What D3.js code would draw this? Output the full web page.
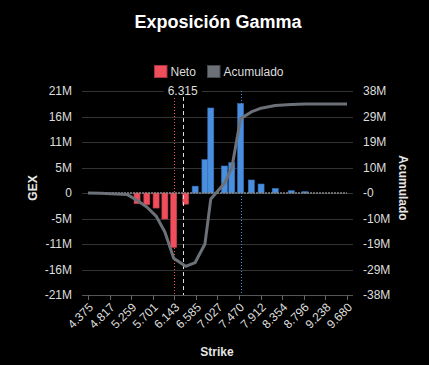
<!DOCTYPE html>
<html>
<head>
<meta charset="utf-8">
<script src="https://cdn.jsdelivr.net/npm/d3@7"></script>
<style>
  html, body { margin: 0; padding: 0; background: #000; }
  svg { display: block; font-family: "Liberation Sans", Arial, sans-serif; }
</style>
</head>
<body>
<div id="chart"></div>
<script>
// strikes with visible net gamma bars (millions)
var strikes = [5.38, 5.58, 5.77, 5.95, 6.13, 6.375, 6.57, 6.77, 6.89, 7.17, 7.32, 7.50, 7.72, 7.92, 8.21, 8.54, 8.82];
var neto    = [-2.2, -2.4, -3.1, -5.35, -11.2, -2.3, 1.4, 6.86, 17.5, 5.56, 6.24, 18.4, 2.68, 1.85, 0.95, 0.47, 0.27];

// cumulative line (millions)
var lineStrikes = [4.375, 4.62, 5.18, 5.38, 5.58, 5.77, 5.95, 6.13, 6.375, 6.57, 6.77, 6.89, 7.17, 7.32, 7.50, 7.72, 7.92, 8.21, 8.54, 8.82, 9.68];
var acumulado   = [0, -0.1, -0.6, -2.7, -5.2, -8.6, -14.5, -24.3, -27.3, -25.9, -19.0, -2.2, 3.6, 9.3, 27.7, 30.2, 31.6, 32.6, 33.0, 33.2, 33.2];

var xTickLabels = ["4.375","4.817","5.259","5.701","6.143","6.585","7.027","7.470","7.912","8.354","8.796","9.238","9.680"];
var leftTicks  = [21, 15.75, 10.5, 5.25, 0, -5.25, -10.5, -15.75, -21];
var leftLabels = ["21M","16M","11M","5M","0","-5M","-11M","-16M","-21M"];
var rightTicks  = [38, 28.5, 19, 9.5, 0, -9.5, -19, -28.5, -38];
var rightLabels = ["38M","29M","19M","10M","-0","-10M","-19M","-29M","-38M"];

var spot = 6.315, putWall = 6.13, callWall = 7.50;

var width = 429, height = 365;
var pLeft = 88, pRight = 347, pTop = 91, pBottom = 295;

var x = d3.scaleLinear().domain([4.375, 9.68]).range([pLeft, pRight]);
var yL = d3.scaleLinear().domain([-21, 21]).range([pBottom, pTop]);
var yR = d3.scaleLinear().domain([-38, 38]).range([pBottom, pTop]);

var svg = d3.select("#chart").append("svg")
    .attr("width", width)
    .attr("height", height);

svg.append("rect").attr("width", width).attr("height", height).attr("fill", "#000");

// title
svg.append("text")
    .attr("x", 218).attr("y", 28)
    .attr("text-anchor", "middle")
    .attr("fill", "#fff")
    .style("font-size", "18px").style("font-weight", "bold")
    .text("Exposición Gamma");

// legend
var legend = [
  {name: "Neto", color: "#ef4f5c", stroke: "#a8323c", x: 154},
  {name: "Acumulado", color: "#6c7178", stroke: "#44484d", x: 207}
];
var lg = svg.selectAll(".lg").data(legend).enter().append("g");
lg.append("rect")
    .attr("x", function (d) { return d.x + 0.5; }).attr("y", 65.5)
    .attr("width", 12.5).attr("height", 12)
    .attr("fill", function (d) { return d.color; })
    .attr("stroke", function (d) { return d.stroke; });
lg.append("text")
    .attr("x", function (d) { return d.x + 16.5; }).attr("y", 76)
    .attr("fill", "#ddd")
    .style("font-size", "12px")
    .text(function (d) { return d.name; });

// grid lines
svg.selectAll(".grid").data(leftTicks).enter().append("line")
    .attr("x1", pLeft - 6).attr("x2", pRight + 6)
    .attr("y1", function (d) { return Math.round(yL(d)) + 0.5; })
    .attr("y2", function (d) { return Math.round(yL(d)) + 0.5; })
    .attr("stroke", function (d, i) { return i == leftTicks.length - 1 ? "#555" : "#333"; })
    .attr("stroke-width", 1);

// x ticks
var xTicks = xTickLabels.map(function (d) { return +d; });
svg.selectAll(".xt").data(xTicks).enter().append("line")
    .attr("x1", function (d) { return Math.round(x(d)) + 0.5; })
    .attr("x2", function (d) { return Math.round(x(d)) + 0.5; })
    .attr("y1", pBottom).attr("y2", pBottom + 5)
    .attr("stroke", "#666");

svg.selectAll(".xl").data(xTickLabels).enter().append("text")
    .attr("transform", function (d) { return "translate(" + (x(+d) + 3) + "," + (pBottom + 10) + ") rotate(-45)"; })
    .attr("text-anchor", "end")
    .attr("dy", "0.35em")
    .attr("fill", "#ddd")
    .style("font-size", "12px")
    .text(function (d) { return d; });

// y labels
svg.selectAll(".yl").data(leftTicks).enter().append("text")
    .attr("x", pLeft - 16).attr("y", function (d) { return yL(d); })
    .attr("dy", "0.35em")
    .attr("text-anchor", "end")
    .attr("fill", "#ddd")
    .style("font-size", "12px")
    .text(function (d, i) { return leftLabels[i]; });

svg.selectAll(".yr").data(rightTicks).enter().append("text")
    .attr("x", pRight + 16).attr("y", function (d) { return yR(d); })
    .attr("dy", "0.35em")
    .attr("fill", "#ddd")
    .style("font-size", "12px")
    .text(function (d, i) { return rightLabels[i]; });

// axis titles
svg.append("text")
    .attr("transform", "translate(37,188) rotate(-90)")
    .attr("text-anchor", "middle")
    .attr("fill", "#e6e6e6")
    .style("font-size", "12px").style("font-weight", "bold")
    .text("GEX");
svg.append("text")
    .attr("transform", "translate(399,188) rotate(90)")
    .attr("text-anchor", "middle")
    .attr("fill", "#e6e6e6")
    .style("font-size", "12px").style("font-weight", "bold")
    .text("Acumulado");
svg.append("text")
    .attr("x", 217).attr("y", 356)
    .attr("text-anchor", "middle")
    .attr("fill", "#e6e6e6")
    .style("font-size", "12px").style("font-weight", "bold")
    .text("Strike");

// bars
var bars = strikes.map(function (s, i) { return {s: s, v: neto[i]}; });
svg.selectAll(".bar").data(bars).enter().append("rect")
    .attr("x", function (d) { return x(d.s) - 3; })
    .attr("width", 6)
    .attr("y", function (d) { return yL(Math.max(0, d.v)); })
    .attr("height", function (d) { return Math.abs(yL(d.v) - yL(0)); })
    .attr("fill", function (d) { return d.v < 0 ? "#ef4f5c" : "#4a8fdf"; })
    .attr("stroke", function (d) { return d.v < 0 ? "#c43c48" : "#3670b5"; })
    .attr("stroke-width", 0.6);

// zero line
svg.append("line")
    .attr("x1", pLeft).attr("x2", pRight)
    .attr("y1", yL(0)).attr("y2", yL(0))
    .attr("stroke", "#888").attr("stroke-width", 1.5)
    .attr("stroke-dasharray", "2,1");

// reference lines
svg.append("line")
    .attr("x1", Math.round(x(putWall)) + 0.5).attr("x2", Math.round(x(putWall)) + 0.5)
    .attr("y1", pTop + 4).attr("y2", pBottom)
    .attr("stroke", "#ef4f5c").attr("stroke-dasharray", "1,2");
svg.append("line")
    .attr("x1", Math.round(x(callWall)) + 0.5).attr("x2", Math.round(x(callWall)) + 0.5)
    .attr("y1", pTop).attr("y2", pBottom)
    .attr("stroke", "#4a8fdf").attr("stroke-dasharray", "1,2");
svg.append("line")
    .attr("x1", Math.round(x(spot)) + 0.5).attr("x2", Math.round(x(spot)) + 0.5)
    .attr("y1", pTop + 6).attr("y2", pBottom)
    .attr("stroke", "#ddd").attr("stroke-dasharray", "4,3");
svg.append("rect")
    .attr("x", x(spot) - 19).attr("y", pTop - 7)
    .attr("width", 38).attr("height", 13)
    .attr("fill", "#000");
svg.append("text")
    .attr("x", x(spot)).attr("y", pTop)
    .attr("dy", "0.35em")
    .attr("text-anchor", "middle")
    .attr("fill", "#ddd")
    .style("font-size", "12px")
    .text(spot.toFixed(3));

// cumulative line
var pts = lineStrikes.map(function (s, i) { return [s, acumulado[i]]; });
var line = d3.line()
    .x(function (d) { return x(d[0]); })
    .y(function (d) { return yR(d[1]); });
svg.append("path")
    .datum(pts)
    .attr("d", line)
    .attr("fill", "none")
    .attr("stroke", "#6c7178")
    .attr("stroke-width", 3)
    .attr("stroke-linejoin", "round");
</script>
</body>
</html>
